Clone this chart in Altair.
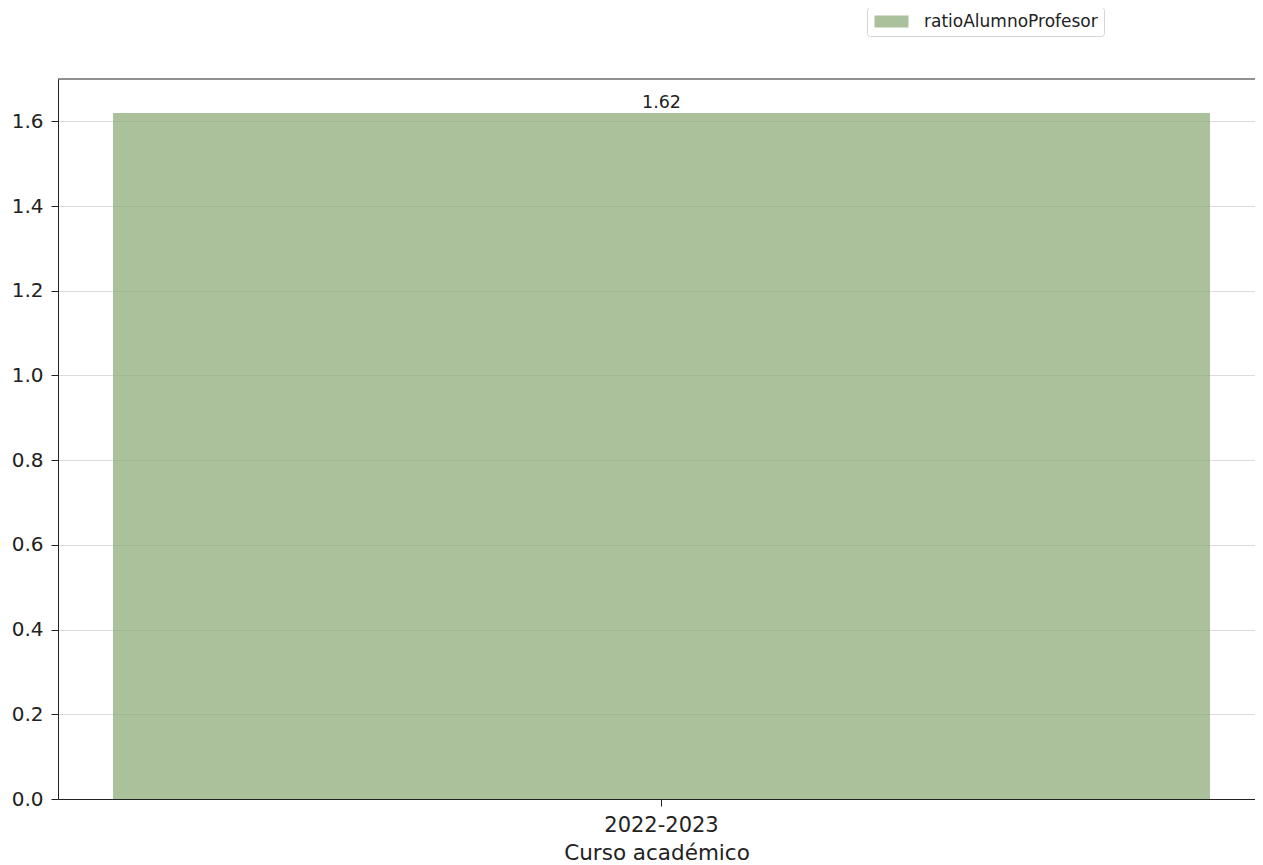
import altair as alt
import pandas as pd

cursos = ["2022-2023"]
ratio = [1.62]
serie = ["ratioAlumnoProfesor"]
y_ticks = [0.0, 0.2, 0.4, 0.6, 0.8, 1.0, 1.2, 1.4, 1.6]

df = pd.DataFrame({"curso": cursos, "ratio": ratio, "serie": serie * len(cursos)})
df["etiqueta"] = df["ratio"].map(lambda v: f"{v:.2f}")

W, H = 1197, 720
FONT = "DejaVu Sans"
INK = "#222222"

base = alt.Chart(df)

bars = base.mark_bar(opacity=0.7).encode(
    x=alt.X(
        "curso:N",
        title="Curso académico",
        scale=alt.Scale(paddingInner=0, paddingOuter=0.0456, align=0.55),
        axis=alt.Axis(
            labelAngle=0, labelFontSize=21, titleFontSize=21.5, labelFont=FONT, titleFont=FONT,
            labelColor=INK, titleColor=INK, titleFontWeight="normal",
            domainColor=INK, tickColor=INK, tickSize=7, labelPadding=8,
            titlePadding=7, grid=False,
        ),
    ),
    y=alt.Y(
        "ratio:Q",
        title=None,
        scale=alt.Scale(domain=[0, 1.7], nice=False, zero=True),
        axis=alt.Axis(
            values=y_ticks, format=".1f", labelFontSize=20, labelFont=FONT,
            labelColor=INK, domainColor=INK, tickColor=INK,
            tickSize=7, labelPadding=8, grid=True, gridColor="#dcdcdc", gridWidth=1,
        ),
    ),
    color=alt.Color(
        "serie:N",
        scale=alt.Scale(range=["#86a670"]),
        legend=alt.Legend(
            title=None, orient="none", legendX=809, legendY=-72,
            symbolType="M-0.875,-0.75H3.375V0.75H-0.875Z", symbolSize=256, symbolOpacity=0.7,
            symbolStrokeWidth=0, labelFont=FONT, labelFontSize=17, labelColor=INK,
            labelLimit=400, padding=6, strokeColor="#d5d5d5", fillColor="white",
            cornerRadius=3, labelOffset=34,
        ),
    ),
)

labels = base.mark_text(baseline="alphabetic", dy=-5, fontSize=17.5, font=FONT, color=INK).encode(
    x="curso:N", y="ratio:Q", text="etiqueta:N"
)

top_spine = base.mark_rule(color=INK, strokeWidth=1.2).encode(
    x=alt.value(0), x2=alt.value(W), y=alt.value(0)
)

chart = (
    alt.layer(bars, labels, top_spine)
    .properties(
        width=W, height=H,
        autosize=alt.AutoSizeParams(type="none"),
        padding={"left": 50, "top": 71, "right": 0, "bottom": 66},
    )
    .configure_view(stroke=None)
)

chart.save("out.html", embed_options={"renderer": "svg", "actions": False})
